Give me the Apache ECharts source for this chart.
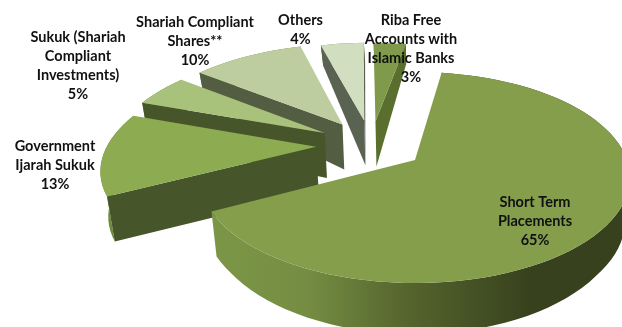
<!DOCTYPE html>
<html>
<head>
<meta charset="utf-8">
<style>html,body{margin:0;padding:0;background:#fff}#c{width:622px;height:327px}</style>
<script src="https://cdn.jsdelivr.net/npm/echarts@6/dist/echarts.min.js"></script>
</head>
<body>
<div id="c"></div>
<script>
// Portfolio split, clockwise from the largest slice
const categories = ['Short Term\nPlacements', 'Government\nIjarah Sukuk', 'Sukuk (Shariah\nCompliant\nInvestments)', 'Shariah Compliant\nShares**', 'Others', 'Riba Free\nAccounts with\nIslamic Banks'];
const shares = [65, 13, 5, 10, 4, 3];

// Slice appearance, same order as the values
const topColors = ['#849e4b', '#8dab50', '#a9c27b', '#bdcd9f', '#d2dec0', '#7f9a4a'];
const wallColors = ['#55662f', '#46552a', '#46552a', '#525d41', '#5a6252', '#5a6f2e'];
const explosions = [0.26, 0.265, 0.265, 0.265, 0.265, 0.25];
const radii = [1, 1.01, 1.03, 1.03, 1, 1];
const labelAnchors = [[535, 221], [55, 165], [78, 65.5], [195, 41], [300.5, 30], [411, 49]];

// Projection of the tilted pie
const view = { cx: 415, cy: 160, a: 212, b: 102.6, k: 0.166, startDeg: 8.4, converge: 0.025 };

function project(X, Y) {
  const d = 1 - view.k * Y;
  return [view.cx + view.a * X / d, view.cy + view.b * Y / d];
}
// Depth of the slab: thin at the far rim, full towards the viewer
function slabDepth(Y) {
  if (Y >= 0.6) return 45 + Math.min(1, (Y - 0.6) / 0.4) * 6;
  if (Y >= -0.4) return 45;
  if (Y <= -1.38) return 20;
  return 20 + (Y + 1.38) / 0.98 * 25;
}
function lowered(X, Y) {
  const p = project(X, Y);
  return [view.cx + (p[0] - view.cx) * (1 - view.converge), p[1] + slabDepth(Y)];
}
function area(pts) {
  let s = 0;
  pts.forEach((p, i) => { const q = pts[(i + 1) % pts.length]; s += p[0] * q[1] - q[0] * p[1]; });
  return s;
}

const total = shares.reduce((s, v) => s + v, 0);
const dirOf = t => [Math.sin(t), -Math.cos(t)];
const rad = Math.PI / 180;
const firstBisector = dirOf((view.startDeg + shares[0] / total * 180) * rad);
const centre = [-explosions[0] * firstBisector[0], -explosions[0] * firstBisector[1]];

let running = view.startDeg * rad;
const spans = shares.map(v => {
  const a0 = running;
  running += v / total * 2 * Math.PI;
  return [a0, running];
});

function polygon(points, fill, z2) {
  return { type: 'polygon', shape: { points }, style: { fill }, z2 };
}

function renderSlice(params, api) {
  const i = params.dataIndex;
  const [a0, a1] = spans[i];
  const dir = dirOf((a0 + a1) / 2);
  const apex = [centre[0] + explosions[i] * dir[0], centre[1] + explosions[i] * dir[1]];
  const rimWorld = [];
  const steps = Math.max(6, Math.round((a1 - a0) / rad / 3));
  for (let s = 0; s <= steps; s++) {
    const d = dirOf(a0 + (a1 - a0) * s / steps);
    rimWorld.push([apex[0] + radii[i] * d[0], apex[1] + radii[i] * d[1]]);
  }
  const rimTop = rimWorld.map(w => project(w[0], w[1]));
  const rimLow = rimWorld.map(w => lowered(w[0], w[1]));
  const apexTop = project(apex[0], apex[1]);
  const apexLow = lowered(apex[0], apex[1]);
  const order = (shares.length - i) * 10;
  const children = [];

  // Outer rim first, shaded darker towards the right on the large slice
  const rimFill = i === 0
    ? new echarts.graphic.LinearGradient(213, 0, 530, 0, [
        { offset: 0, color: '#7c9647' },
        { offset: 0.3, color: '#748d42' },
        { offset: 0.6, color: '#56662e' },
        { offset: 1, color: '#38411d' }
      ], true)
    : '#6e8b3a';
  children.push(polygon(rimTop.concat(rimLow.slice().reverse()), rimFill, order));

  // Cut faces, only where they face the viewer
  const startWall = [apexTop, rimTop[0], rimLow[0], apexLow];
  const endWall = [apexTop, rimTop[steps], rimLow[steps], apexLow];
  if (area(startWall) < 0) children.push(polygon(startWall, wallColors[i], order + 1));
  if (area(endWall) > 0) children.push(polygon(endWall, wallColors[i], order + 1));

  children.push(polygon([apexTop].concat(rimTop), topColors[i], order + 2));
  return { type: 'group', children };
}

const chart = echarts.init(document.getElementById('c'), null, { renderer: 'canvas' });
chart.setOption({
  animation: false,
  backgroundColor: '#fff',
  series: [{
    type: 'custom',
    coordinateSystem: 'none',
    renderItem: renderSlice,
    data: shares,
    silent: true
  }],
  graphic: categories.map((name, i) => ({
    type: 'text',
    x: labelAnchors[i][0],
    y: labelAnchors[i][1],
    z: 100,
    style: {
      text: name + '\n' + shares[i] + '%',
      font: 'bold 14.5px Lato, "Open Sans", sans-serif',
      fill: '#111',
      align: 'center',
      verticalAlign: 'middle',
      lineHeight: 19
    }
  }))
});
</script>
</body>
</html>
